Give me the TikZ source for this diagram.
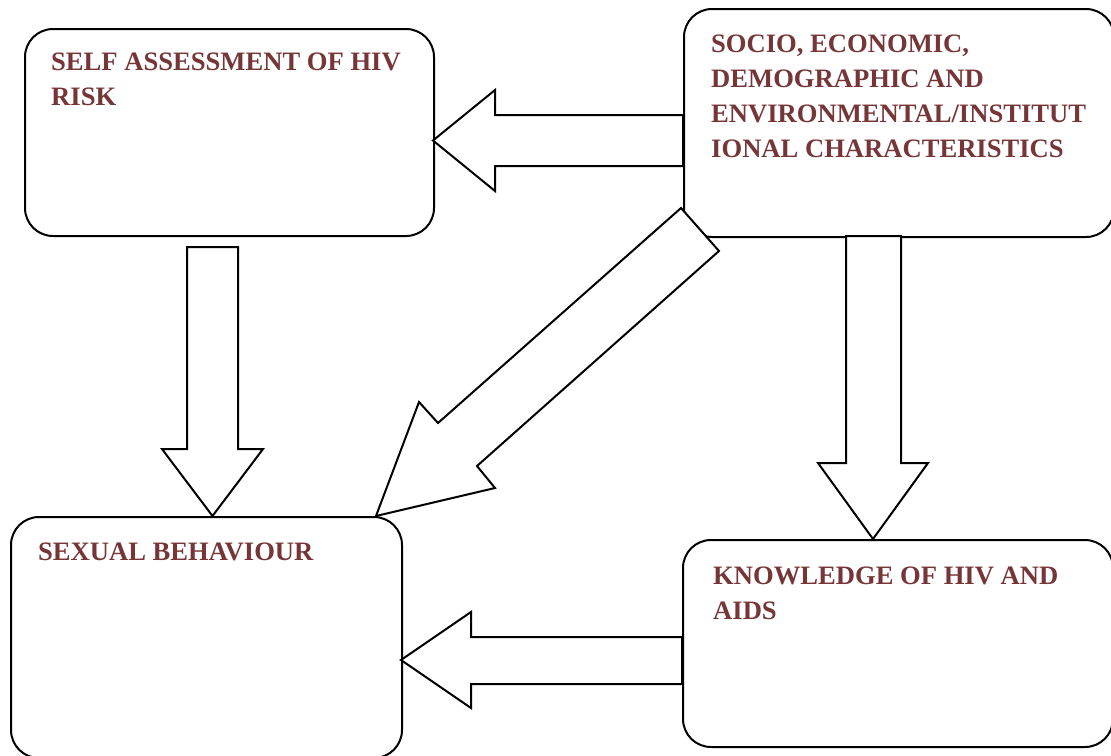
\documentclass[tikz,border=0pt]{standalone}
\usepackage{fontspec}
\setmainfont{Liberation Serif}
\definecolor{txt}{RGB}{118,54,56}
\begin{document}
\begin{tikzpicture}[x=1pt,y=-1pt,
  box/.style={draw, line width=2pt, rounded corners=28pt, anchor=north west, inner sep=0pt},
  lbl/.style={anchor=base west, font=\fontsize{26.6}{35}\selectfont\bfseries, text=txt, align=left, inner sep=0pt},
  barrow/.style={draw, line width=2pt, fill=white, line join=miter}]
\useasboundingbox (0,0) rectangle (1111,755);
\fill[white] (0,0) rectangle (1111,755);
% boxes
\node[box, minimum width=409pt, minimum height=207pt] (self) at (24,28) {};
\node[box, minimum width=430pt, minimum height=228pt] (socio) at (683,8) {};
\node[box, minimum width=391pt, minimum height=241pt] (sex) at (10,516) {};
\node[box, minimum width=430pt, minimum height=207pt] (know) at (682,539) {};
% labels (base = baseline of last line)
\node[lbl] (tself) at (51,105) {SELF ASSESSMENT OF HIV\\RISK};
\node[lbl] (tsocio) at (711,157) {SOCIO, ECONOMIC,\\DEMOGRAPHIC AND\\ENVIRONMENTAL/INSTITUT\\IONAL CHARACTERISTICS};
\node[lbl] (tsex) at (38,560) {SEXUAL BEHAVIOUR};
\node[lbl] (tknow) at (713,619) {KNOWLEDGE OF HIV AND\\AIDS};
% block arrows
\draw[barrow] (683,115) -- (495,115) -- (495,90) -- (433,140.5) -- (495,191) -- (495,166) -- (683,166) -- cycle;
\draw[barrow] (187,247) -- (187,449) -- (162,449) -- (212.5,516) -- (263,449) -- (238,449) -- (238,247) -- cycle;
\draw[barrow] (846,236) -- (846,463) -- (818,463) -- (873,539) -- (928,463) -- (901,463) -- (901,236) -- cycle;
\draw[barrow] (682,637) -- (471,637) -- (471,612) -- (401,660) -- (471,708) -- (471,684) -- (682,684) -- cycle;
\draw[barrow] (681,208) -- (438,423) -- (419,402) -- (376,516) -- (495,488) -- (477,466) -- (719,251) -- cycle;
\end{tikzpicture}
\end{document}
